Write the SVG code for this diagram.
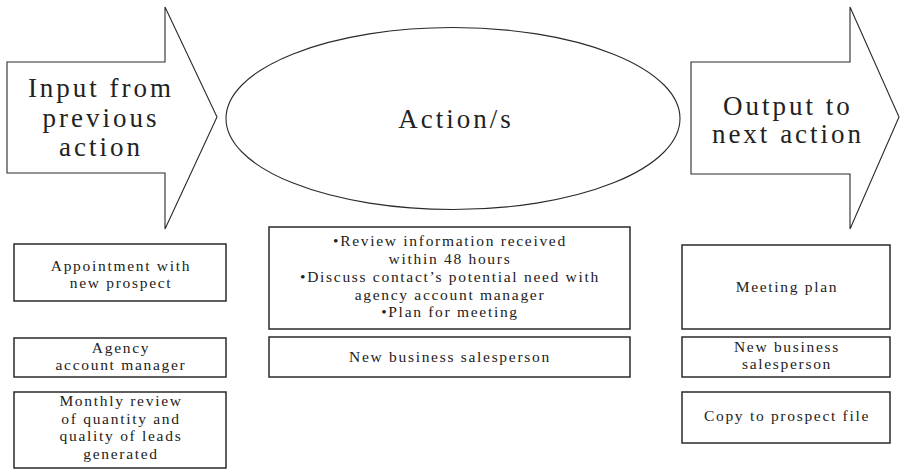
<svg xmlns="http://www.w3.org/2000/svg" width="900" height="470" viewBox="0 0 900 470">
<style>
  .shape { fill: #ffffff; stroke: #2a2a2a; stroke-width: 1.1; }
  .box { fill: #ffffff; stroke: #2a2a2a; stroke-width: 1.5; }
  .big { font-family: "Liberation Serif", "DejaVu Serif", serif; font-size: 27px; letter-spacing: 3px; fill: #222222; text-anchor: middle; }
  .small { font-family: "Liberation Serif", "DejaVu Serif", serif; font-size: 15.5px; letter-spacing: 1.7px; fill: #222222; text-anchor: middle; }
</style>
<rect width="900" height="470" fill="#ffffff"/>

<g id="input-arrow">
  <polygon class="shape" points="7,62 165,62 165,7 217,117 165,229 165,173 7,173"/>
  <text class="big" x="101" y="97">Input from</text>
  <text class="big" x="101" y="127">previous</text>
  <text class="big" x="101" y="156">action</text>
</g>

<g id="actions-ellipse">
  <ellipse class="shape" cx="453" cy="118.5" rx="227" ry="91"/>
  <text class="big" x="456" y="128">Action/s</text>
</g>

<g id="output-arrow">
  <polygon class="shape" points="691,62 850,62 850,7 899,117 850,229 850,174 691,174"/>
  <text class="big" x="788" y="115">Output to</text>
  <text class="big" x="788" y="143">next action</text>
</g>

<g id="input-box-1">
  <rect class="box" x="14" y="244" width="212" height="57"/>
  <text class="small" x="121" y="271">Appointment with</text>
  <text class="small" x="121" y="288">new prospect</text>
</g>
<g id="input-box-2">
  <rect class="box" x="14" y="338" width="212" height="39"/>
  <text class="small" x="121" y="353">Agency</text>
  <text class="small" x="121" y="370">account manager</text>
</g>
<g id="input-box-3">
  <rect class="box" x="14" y="392" width="212" height="76"/>
  <text class="small" x="121" y="406">Monthly review</text>
  <text class="small" x="121" y="423.5">of quantity and</text>
  <text class="small" x="121" y="441">quality of leads</text>
  <text class="small" x="121" y="458.5">generated</text>
</g>

<g id="action-box-1">
  <rect class="box" x="269" y="227" width="361" height="102"/>
  <text class="small" x="450" y="246">•Review information received</text>
  <text class="small" x="450" y="264">within 48 hours</text>
  <text class="small" x="450" y="282">•Discuss contact’s potential need with</text>
  <text class="small" x="450" y="299.5">agency account manager</text>
  <text class="small" x="450" y="317">•Plan for meeting</text>
</g>
<g id="action-box-2">
  <rect class="box" x="269" y="337" width="361" height="40"/>
  <text class="small" x="450" y="362">New business salesperson</text>
</g>

<g id="output-box-1">
  <rect class="box" x="682" y="245" width="208" height="84"/>
  <text class="small" x="787" y="292">Meeting plan</text>
</g>
<g id="output-box-2">
  <rect class="box" x="682" y="337" width="208" height="40"/>
  <text class="small" x="787" y="352">New business</text>
  <text class="small" x="787" y="369">salesperson</text>
</g>
<g id="output-box-3">
  <rect class="box" x="682" y="392" width="208" height="51"/>
  <text class="small" x="787" y="421">Copy to prospect file</text>
</g>

<g id="connectors"></g>
</svg>
